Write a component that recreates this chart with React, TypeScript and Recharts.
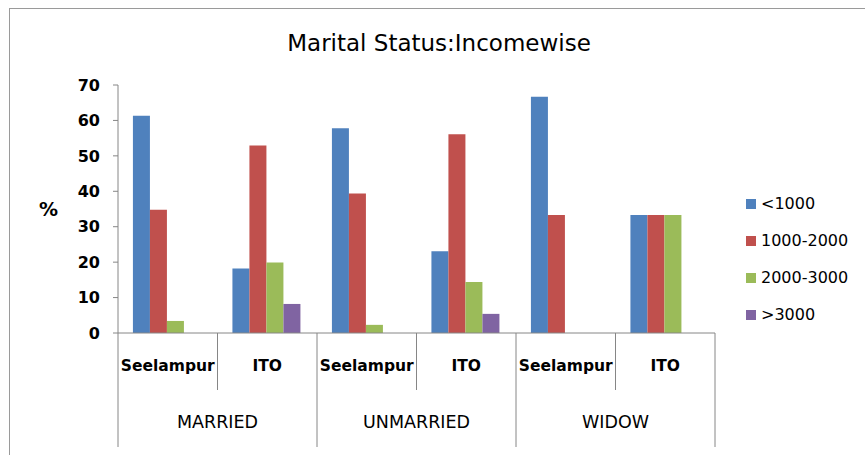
import React from "react";
import { BarChart, Bar, XAxis, YAxis, Legend } from "recharts";

const categories = ["Seelampur", "ITO", "Seelampur", "ITO", "Seelampur", "ITO"];
const groups = ["MARRIED", "UNMARRIED", "WIDOW"];
const below1000 = [61.3, 18.2, 57.8, 23.1, 66.7, 33.3];
const from1000to2000 = [34.8, 52.9, 39.4, 56.1, 33.3, 33.3];
const from2000to3000 = [3.4, 19.9, 2.3, 14.4, 0, 33.3];
const above3000 = [0, 8.2, 0, 5.4, 0, 0];
const yTicks = [0, 10, 20, 30, 40, 50, 60, 70];

const seriesNames = ["<1000", "1000-2000", "2000-3000", ">3000"];
const seriesColors = ["#4F81BD", "#C0504D", "#9BBB59", "#8064A2"];
const seriesKeys = ["a", "b", "c", "d"];

const data = categories.map((name, i) => ({
  name,
  a: below1000[i],
  b: from1000to2000[i],
  c: from2000to3000[i],
  d: above3000[i]
}));

const FONT = "'DejaVu Sans', sans-serif";
const AXIS = "#868686";
const W = 865;
const H = 455;
const M = { top: 85, right: 150, left: 30, bottom: 8 };
const Y_W = 88;
const BAND = (W - M.left - Y_W - M.right) / categories.length;

// two-level category axis: site labels, group labels and separators
const CategoryTick = (props: any) => {
  const { x, y, index } = props;
  const left = x - BAND / 2;
  const right = x + BAND / 2;
  const first = index % 2 === 0;
  return (
    <g>
      <line x1={left} x2={left} y1={y} y2={y + (first ? 114 : 57)} stroke={AXIS} />
      {index === categories.length - 1 && (
        <line x1={right} x2={right} y1={y} y2={y + 114} stroke={AXIS} />
      )}
      <text x={x} y={y + 33} textAnchor="middle" dominantBaseline="middle"
        fontFamily={FONT} fontWeight="bold" fontSize={15.5} fill="#000">
        {categories[index]}
      </text>
      {first && (
        <text x={right} y={y + 90} textAnchor="middle" dominantBaseline="middle"
          fontFamily={FONT} fontSize={17.5} fill="#000">
          {groups[index / 2]}
        </text>
      )}
    </g>
  );
};

const LegendBox = () => (
  <div style={{ fontFamily: FONT, fontSize: 16, color: "#000" }}>
    {seriesNames.map((n, i) => (
      <div key={n} style={{ height: 37, display: "flex", alignItems: "center" }}>
        <span style={{ width: 10, height: 10, background: seriesColors[i], marginRight: 5, display: "inline-block" }} />
        <span>{n}</span>
      </div>
    ))}
  </div>
);

export default function App() {
  return (
    <div style={{ position: "absolute", left: 0, top: 0, width: W, height: H, background: "#fff" }}>
      <div style={{ position: "absolute", left: 9, top: 8, right: 0, bottom: 0, borderLeft: "1px solid #9a9a9a", borderTop: "1px solid #9a9a9a" }} />
      <div style={{ position: "absolute", left: 0, width: 878, top: 28, textAlign: "center", fontFamily: FONT, fontSize: 23, lineHeight: "30px", color: "#000" }}>
        Marital Status:Incomewise
      </div>
      <BarChart width={W} height={H} data={data} margin={M} barCategoryGap="15%" barGap={0}>
        <XAxis dataKey="name" height={H - M.top - M.bottom - 248} interval={0}
          tick={<CategoryTick />} tickLine={false} tickSize={0} tickMargin={0}
          axisLine={{ stroke: AXIS }} />
        <YAxis width={Y_W} domain={[0, 70]} ticks={yTicks} interval={0}
          tickSize={5} tickMargin={13} tickLine={{ stroke: AXIS }} axisLine={{ stroke: AXIS }}
          tick={{ fontFamily: FONT, fontWeight: "bold", fontSize: 16, fill: "#000" }}
          label={{ value: "%", position: "insideLeft", offset: 9, fontFamily: FONT, fontWeight: "bold", fontSize: 19, fill: "#000" }} />
        <Legend layout="vertical" align="center" verticalAlign="middle"
          wrapperStyle={{ left: 746, top: 185, width: 115 }} content={<LegendBox />} />
        {seriesKeys.map((k, i) => (
          <Bar key={k} dataKey={k} name={seriesNames[i]} fill={seriesColors[i]} isAnimationActive={false} />
        ))}
      </BarChart>
    </div>
  );
}
